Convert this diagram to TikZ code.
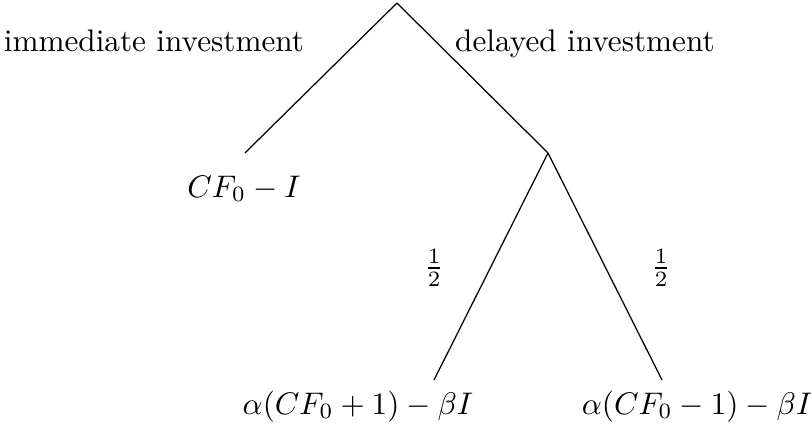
\documentclass[tikz,border=0pt]{standalone}
\usetikzlibrary{positioning}

\begin{document}
\begin{tikzpicture}
  \useasboundingbox (0,0) rectangle (9.128,-4.896);
  % 分岐点
  \coordinate (root) at (4.468,-0.034);
  \coordinate (now) at (2.757,-1.722);
  \coordinate (wait) at (6.168,-1.722);
  \coordinate (up) at (4.885,-4.277);
  \coordinate (down) at (7.451,-4.277);
  % 枝
  \draw (root) -- (now);
  \draw (root) -- (wait);
  \draw (wait) -- (up);
  \draw (wait) -- (down);
  % 選択肢
  \node[anchor=base] (immlab) at (1.733,-0.585) {immediate investment};
  \node[anchor=base] (dellab) at (6.584,-0.585) {delayed investment};
  % 確率
  \node (pup) at (4.885,-3.016) {$\frac{1}{2}$};
  \node (pdown) at (7.440,-3.016) {$\frac{1}{2}$};
  % 利得
  \node (nowpay) at (2.746,-2.127) {$CF_0-I$};
  \node[anchor=base] (uppay) at (4.029,-4.660) {$\alpha(CF_0+1)-\beta I$};
  \node[anchor=base] (downpay) at (7.845,-4.660) {$\alpha(CF_0-1)-\beta I$};
\end{tikzpicture}
\end{document}
